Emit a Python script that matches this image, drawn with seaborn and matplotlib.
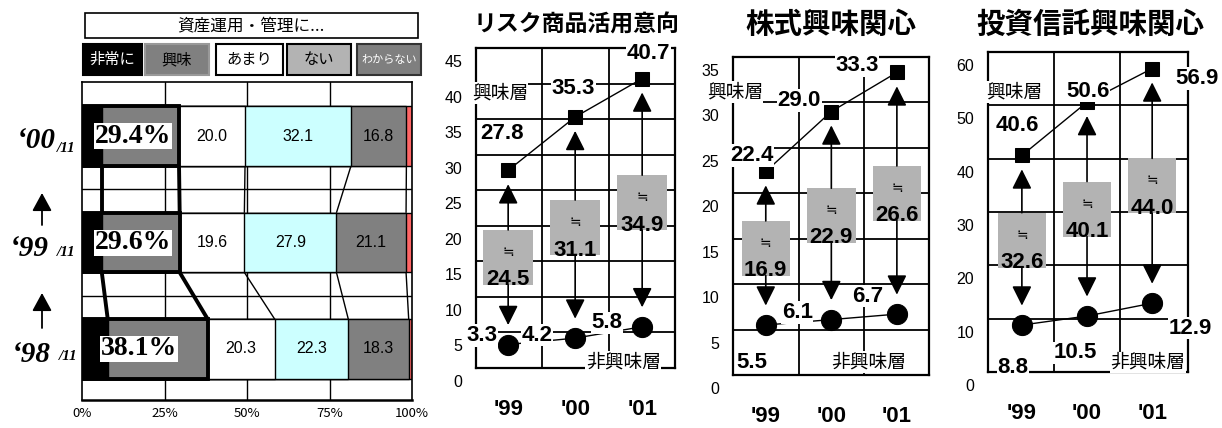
import numpy as np
import matplotlib
matplotlib.use("Agg")
import matplotlib.pyplot as plt
import matplotlib.transforms as mtransforms
from matplotlib.patches import Rectangle
import seaborn as sns

sns.set_theme(style="white", rc={"text.color": "black", "xtick.color": "black",
                                 "ytick.color": "black", "axes.edgecolor": "black"})
plt.rcParams["font.family"] = ["Noto Sans CJK JP", "DejaVu Sans"]
plt.rcParams["axes.unicode_minus"] = False

# ---------- 資産運用・管理への関心（各年11月調査, %） ----------
survey_years = ["'00", "'99", "'98"]
very_interested = [6.0, 6.0, 7.8]
interested = [23.4, 23.6, 30.3]
not_much = [20.0, 19.6, 20.3]
not_interested = [32.1, 27.9, 22.3]
dont_know = [16.8, 21.1, 18.3]
no_answer = [1.7, 1.8, 1.0]
interest_total = [29.4, 29.6, 38.1]
x_ticks_pct = [0, 25, 50, 75, 100]
x_tick_labels_pct = ["0%", "25%", "50%", "75%", "100%"]

# ---------- 興味層 / 非興味層の推移 ----------
periods = ["'99", "'00", "'01"]
risk_interest = [27.8, 35.3, 40.7]
risk_non = [3.3, 4.2, 5.8]
risk_gap = [24.5, 31.1, 34.9]
stock_interest = [22.4, 29.0, 33.3]
stock_non = [5.5, 6.1, 6.7]
stock_gap = [16.9, 22.9, 26.6]
fund_interest = [40.6, 50.6, 56.9]
fund_non = [8.8, 10.5, 12.9]
fund_gap = [32.6, 40.1, 44.0]

W, H = 1222, 428
fig = plt.figure(figsize=(W / 100, H / 100), dpi=100)
fig.patch.set_facecolor("white")

NUM = "Liberation Sans"
SERIF = "Liberation Serif"


def px_rect(left, top, right, bottom):
    return [left / W, 1 - bottom / H, (right - left) / W, (bottom - top) / H]


# ===== 左：帯グラフ =====
ax0 = fig.add_axes(px_rect(82, 82, 412, 400))
segments = np.array([very_interested, interested, not_much,
                     not_interested, dont_know, no_answer])
cum = segments.cumsum(axis=0)
seg_colors = ["#000000", "#808080", "#FFFFFF", "#CCFFFF", "#808080", "#FF6666"]
bar_h = 0.56

for x in (25, 50, 75):
    ax0.axvline(x, color="black", lw=1, zorder=0)
for y in (0.5, 1.5):
    ax0.axhline(y, color="black", lw=1, zorder=0)

# 累積値を長い順に重ねて積み上げ帯を作る
for k in reversed(range(len(segments))):
    sns.barplot(x=cum[k], y=survey_years, order=survey_years, orient="h",
                color=seg_colors[k], saturation=1, width=bar_h,
                edgecolor="black", linewidth=1, errorbar=None, ax=ax0)

# 年次間の区切りを結ぶ線
for r in range(2):
    for k in range(5):
        lw = 2.8 if k < 2 else 1.0
        ax0.plot([cum[k, r + 1], cum[k, r]], [r + 1 - bar_h / 2, r + bar_h / 2],
                 color="black", lw=lw, zorder=3, solid_capstyle="butt")

# 「非常に」+「興味」の枠
ax0.barh(range(3), interest_total, height=bar_h, fill=False,
         edgecolor="black", linewidth=2.8, zorder=3)

for r in range(3):
    ax0.text(very_interested[r] + 9.5, r, f"{interest_total[r]:.1f}%",
             fontfamily=SERIF, fontweight="bold", fontsize=20,
             ha="center", va="center", zorder=5,
             bbox=dict(fc="white", ec="none", pad=0.4))
    for k in (2, 3, 4):
        ax0.text(cum[k, r] - segments[k, r] / 2, r, f"{segments[k, r]:.1f}",
                 fontfamily=NUM, fontsize=11.5, ha="center", va="center", zorder=5)

ax0.set_xlim(0, 100)
ax0.set_ylim(2.48, -0.51)
ax0.set_xticks(x_ticks_pct)
ax0.set_xticklabels(x_tick_labels_pct, fontsize=9.5)
ax0.tick_params(axis="x", length=0, pad=5)
ax0.set_yticks([])
ax0.set_xlabel("")
ax0.set_ylabel("")
for s in ax0.spines.values():
    s.set_color("black")
    s.set_linewidth(1.2)
ax0.spines["bottom"].set_linewidth(1.8)


# ===== 右：興味層・非興味層の推移 =====
def trend_panel(ax, interest, non, gap, ymax, step, xlim,
                int_offsets, non_offsets, tag_int, tag_non):
    pos = np.arange(len(periods))
    for y in np.arange(step, ymax, step):
        ax.axhline(y, color="black", lw=1.3, zorder=0)
    for x in (0.5, 1.5):
        ax.axvline(x, color="black", lw=1.3, zorder=0)

    sns.lineplot(x=pos, y=interest, marker="s", markersize=9.5, color="black",
                 lw=1, markeredgecolor="black", ax=ax, zorder=4)
    sns.lineplot(x=pos, y=non, marker="o", markersize=14.5, color="black",
                 lw=1, markeredgecolor="black", ax=ax, zorder=4)

    box_h = 0.172 * ymax
    arrow = dict(arrowstyle="-|>,head_length=0.6,head_width=0.3",
                 mutation_scale=20, color="black", lw=1.2, shrinkA=0)
    for i in range(len(pos)):
        mid = (interest[i] + non[i]) / 2
        ax.add_patch(Rectangle((i - 0.37, mid - box_h / 2), 0.74, box_h,
                               facecolor="#B3B3B3", edgecolor="none", zorder=2))
        ax.text(i, mid + 0.1 * box_h, "≒", fontsize=10, ha="center",
                va="center", zorder=3)
        ax.text(i, mid - 0.41 * box_h, f"{gap[i]:.1f}", fontfamily=NUM,
                fontweight="bold", fontsize=16, ha="center", va="center", zorder=3)
        ax.annotate("", xy=(i, interest[i]), xytext=(i, mid + box_h / 2),
                    arrowprops=dict(arrow, shrinkB=10), zorder=3)
        ax.annotate("", xy=(i, non[i]), xytext=(i, mid - box_h / 2),
                    arrowprops=dict(arrow, shrinkB=14), zorder=3)
        ax.annotate(f"{interest[i]:.1f}", xy=(i, interest[i]),
                    xytext=int_offsets[i], textcoords="offset pixels",
                    fontfamily=NUM, fontweight="bold", fontsize=16,
                    ha="center", va="center", zorder=5,
                    bbox=dict(fc="white", ec="none", pad=0.5))
        ax.annotate(f"{non[i]:.1f}", xy=(i, non[i]),
                    xytext=non_offsets[i], textcoords="offset pixels",
                    fontfamily=NUM, fontweight="bold", fontsize=16,
                    ha="center", va="center", zorder=5,
                    bbox=dict(fc="white", ec="none", pad=0.5))

    ax.text(*tag_int, "興味層", transform=ax.transAxes, fontsize=13.5,
            ha="center", va="center", zorder=5,
            bbox=dict(fc="white", ec="none", pad=0.3))
    ax.text(*tag_non, "非興味層", transform=ax.transAxes, fontsize=13.5,
            ha="center", va="center", zorder=5,
            bbox=dict(fc="white", ec="none", pad=0.3))

    ax.set_xlim(*xlim)
    ax.set_ylim(0, ymax)
    ax.set_xticks(pos)
    ax.set_xticklabels(periods, fontfamily=NUM, fontweight="bold", fontsize=16)
    ax.set_yticks(np.arange(0, ymax + 1, step))
    ax.set_yticklabels([f"{v:g}" for v in np.arange(0, ymax + 1, step)],
                       fontfamily=NUM, fontsize=11.5)
    ax.tick_params(axis="x", length=0, pad=22)
    ax.tick_params(axis="y", length=0, pad=10)
    ax.set_xlabel("")
    ax.set_ylabel("")
    for s in ax.spines.values():
        s.set_color("black")
        s.set_linewidth(1.6)
    shift = mtransforms.ScaledTranslation(0, -13 / 100, fig.dpi_scale_trans)
    for lbl in ax.get_yticklabels():
        lbl.set_transform(lbl.get_transform() + shift)


panels = [
    dict(rect=px_rect(476, 48, 675, 368), title="リスク商品活用意向", title_x=577,
         title_size=16.5,
         interest=risk_interest, non=risk_non, gap=risk_gap, ymax=45, step=5,
         xlim=(-0.48, 2.49),
         int_offsets=[(-6, 37), (-2, 28), (6, 25)],
         non_offsets=[(-26, 9), (-38, 3), (-35, 4)],
         tag_int=(0.12, 0.86), tag_non=(0.74, 0.02)),
    dict(rect=px_rect(733, 57, 929, 375), title="株式興味関心", title_x=831,
         title_size=20.5,
         interest=stock_interest, non=stock_non, gap=stock_gap, ymax=35, step=5,
         xlim=(-0.5, 2.49),
         int_offsets=[(-14, 16), (-32, 11), (-40, 7)],
         non_offsets=[(-14, -37), (-34, 7), (-29, 18)],
         tag_int=(0.01, 0.89), tag_non=(0.69, 0.04)),
    dict(rect=px_rect(988, 52, 1188, 372), title="投資信託興味関心", title_x=1090,
         title_size=20.5,
         interest=fund_interest, non=fund_non, gap=fund_gap, ymax=60, step=10,
         xlim=(-0.52, 2.55),
         int_offsets=[(-5, 30), (1, 11), (45, -10)],
         non_offsets=[(-9, -42), (-12, -37), (38, -25)],
         tag_int=(0.13, 0.875), tag_non=(0.80, 0.03)),
]

axes = []
for p in panels:
    ax = fig.add_axes(p["rect"])
    trend_panel(ax, p["interest"], p["non"], p["gap"], p["ymax"], p["step"],
                p["xlim"], p["int_offsets"], p["non_offsets"],
                p["tag_int"], p["tag_non"])
    axes.append(ax)

# ===== 凡例・見出し・年次ラベル（ピクセル座標の重ね描き） =====
ov = fig.add_axes([0, 0, 1, 1])
ov.set_xlim(0, W)
ov.set_ylim(H, 0)
ov.axis("off")

for p in panels:
    ov.text(p["title_x"], 25, p["title"], fontsize=p["title_size"],
            fontweight="bold", ha="center", va="center")

ov.add_patch(Rectangle((85, 13), 333, 25, facecolor="white", edgecolor="black", lw=1.2))
ov.text(251, 25.5, "資産運用・管理に...", fontsize=12, ha="center", va="center")

legend_items = [
    ("非常に", 83, 142, "#000000", "#000000", "white", 11),
    ("興味", 145, 209, "#808080", "#999999", "black", 11),
    ("あまり", 216, 283, "#FFFFFF", "#000000", "black", 11),
    ("ない", 287, 351, "#B3B3B3", "#000000", "black", 11),
    ("わからない", 357, 421, "#7F7F7F", "#333333", "white", 8),
]
for label, x0, x1, fc, ec, tc, fs in legend_items:
    ov.add_patch(Rectangle((x0, 44), x1 - x0, 31, facecolor=fc, edgecolor=ec, lw=1.5))
    ov.text((x0 + x1) / 2, 59.5, label, color=tc, fontsize=fs, ha="center", va="center")

year_labels = [("‘00", 140, 149, 56), ("‘99", 249, 252, 49), ("‘98", 355, 357, 51)]
for yl, y_main, y_sub, x_right in year_labels:
    ov.text(x_right, y_main, yl, fontfamily=SERIF, fontstyle="italic",
            fontweight="bold", fontsize=21, ha="right", va="center")
    ov.text(x_right + (1 if yl == "‘00" else 8), y_sub, "/11", fontfamily=SERIF,
            fontstyle="italic", fontweight="bold", fontsize=11, ha="left", va="center")

for tip, base in ((193, 225), (293, 328)):
    ov.annotate("", xy=(42, tip), xytext=(42, base),
                arrowprops=dict(arrowstyle="-|>,head_length=0.55,head_width=0.3",
                                mutation_scale=20, color="black", lw=1.3,
                                shrinkA=0, shrinkB=0))

fig.savefig("out.png", dpi=100, facecolor="white")
